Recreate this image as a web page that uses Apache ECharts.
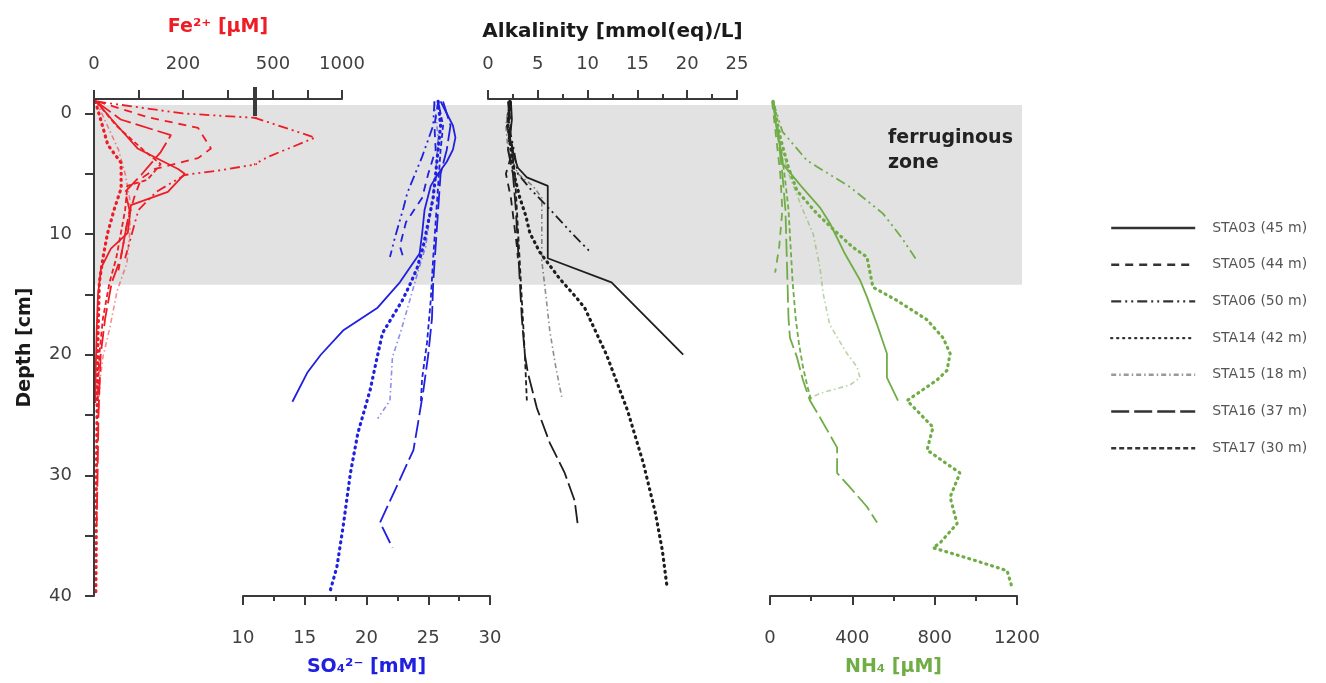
<!DOCTYPE html>
<html>
<head>
<meta charset="utf-8">
<script src="https://cdn.jsdelivr.net/npm/echarts@6/dist/echarts.min.js"></script>
<style>
html, body { margin: 0; padding: 0; background: #fff; }
#chart { width: 1326px; height: 683px; }
</style>
</head>
<body>
<div id="chart"></div>
<script>
// stations (legend order)
var stations = ['STA03 (45 m)', 'STA05 (44 m)', 'STA06 (50 m)', 'STA14 (42 m)', 'STA15 (18 m)', 'STA16 (37 m)', 'STA17 (30 m)'];

// depth range [cm] and ferruginous zone
var depthMin = -1.2, depthMax = 40;
var zoneTop = -0.7, zoneBottom = 14.2;

// tick values
var depthTicks = [0, 5, 10, 15, 20, 25, 30, 35, 40];
var depthLabels = [0, 10, 20, 30, 40];
var feTicksLow = [0, 100, 200, 300], feLabelsLow = [0, 200];
var feTicksHigh = [500, 750, 1000], feLabelsHigh = [500, 1000];
var feBreakLow = 362, feBreakHigh = 370;

// Fe2+ [uM] : [value, depth]
var fe03 = [[5,-1],[40,0.5],[98,2.9],[189,4.6],[204,5],[166,6.5],[83,7.6],[76,9.9],[38,11.2],[16,12.8],[9,15],[6,18],[4,21],[3,24]];
var fe05 = [[8,-1],[120,0.3],[234,1.2],[263,2.9],[234,3.7],[137,4.6],[106,5.4],[90,7],[75,9],[65,11],[55,13]];
var fe06 = [[5,-1],[200,0],[380,0.4],[805,2.0],[464,3.6],[285,4.7],[204,5.1],[140,6.5],[100,8],[85,10],[70,12]];
var fe14 = [[3,-1],[15,0.5],[31,2.6],[61,4.1],[61,6.2],[45,8],[30,10],[20,12],[12,14],[10,17],[8,20],[7,24],[6,28],[5,32],[5,36],[4,40]];
var fe15 = [[5,-1],[30,1],[55,3],[70,5],[80,7],[81,9.7],[74,12.4],[52,14.7],[36,17.7],[20,20.2],[13,22.4],[10,25]];
var fe16 = [[5,-1],[60,0.5],[173,1.8],[150,3.2],[106,5.1],[70,6.5],[80,8],[70,10],[60,12],[40,14],[25,17],[15,20],[10,25],[8,30],[6,34]];
var fe17 = [[5,-1],[50,1],[110,3],[150,4.2],[120,5.5],[75,6],[70,8],[60,10],[50,12],[35,14],[20,17],[12,20],[8,24]];

// SO4 2- [mM]
var so03 = [[26.0,-1],[26.5,0],[27.0,1],[27.2,2],[27.0,3],[26.5,4],[25.8,5],[25.2,6],[24.7,8],[24.5,10],[24.3,11.6],[22.7,14],[20.9,16.1],[18.1,18],[16.3,20],[15.2,21.5],[14.0,23.9]];
var so05 = [[25.8,-1],[25.5,1],[25.6,3],[25.0,5],[24.5,7],[23.2,9],[22.7,11],[23.0,12]];
var so06 = [[25.5,-1],[25.4,1],[24.5,3.6],[23.3,6.6],[23.0,7.8],[22.3,10.3],[21.9,11.9]];
var so14 = [[25.8,-1],[26.0,1],[25.8,3],[25.6,5],[25.4,7],[25.0,9],[24.6,11],[24.1,12.8],[23.6,14],[22.9,15.5],[21.3,18.2],[20.8,20.5],[20.3,22.9],[19.3,26.5],[18.7,29.8],[18.1,34.3],[17.6,37.6],[17.0,39.8]];
var so15 = [[25.5,-1],[25.8,2],[25.6,5],[25.2,8],[24.8,11],[24.2,13],[23.5,15.5],[22.8,18],[22.1,20.2],[21.9,23.8],[20.9,25.3]];
var so16 = [[26.2,-1],[26.8,1],[26.5,3],[26.0,5],[25.8,8],[25.6,11],[25.4,14],[25.3,17],[25.0,20],[24.6,23],[24.2,25.5],[23.8,27.9],[22.5,30.8],[21.1,33.9],[22.1,36.0]];
var so17 = [[25.8,-1],[26.2,1],[26.0,3],[25.8,6],[25.6,9],[25.4,12],[25.2,15.5],[24.9,19],[24.5,22],[24.4,24]];

// Alkalinity [mmol(eq)/L]
var alk03 = [[2.3,-1],[2.4,0.5],[2.2,2],[2.6,3.5],[3.0,4.5],[3.9,5.3],[6.0,6.0],[6.0,12.0],[12.4,14.0],[19.6,20.0]];
var alk05 = [[2.2,-1],[2.0,1],[2.5,3],[1.8,5],[2.3,7],[2.6,9],[2.9,11],[3.0,12]];
var alk06 = [[2.3,-1],[2.1,1],[2.6,3],[3.0,5],[4.2,6.2],[6.5,8.2],[8.5,10],[10.4,11.6]];
var alk14 = [[2.2,-1],[2.0,1],[2.3,3],[2.6,5],[3.2,7],[3.8,8.5],[4.2,9.9],[5.2,11.5],[7.2,13.7],[8.7,15.1],[9.7,16.1],[11.9,20.0],[14.0,24.6],[15.6,29.0],[16.8,33.1],[17.5,36.2],[18.0,39.4]];
var alk15 = [[2.1,-1],[1.8,1],[2.0,3],[3.0,5],[4.5,6],[5.4,7],[5.4,10],[5.4,12.2],[5.8,15],[6.2,18],[6.8,21],[7.4,23.5]];
var alk16 = [[2.0,-1],[2.3,1],[2.0,3],[2.5,5],[2.8,8],[3.0,11],[3.2,14],[3.4,17],[3.7,20],[4.0,21.5],[4.9,24.4],[6.2,27.3],[7.7,29.8],[8.7,32.1],[9.0,34.0]];
var alk17 = [[2.2,-1],[1.9,1],[2.4,3],[2.7,5],[2.9,8],[3.1,11],[3.3,14],[3.5,17],[3.7,20],[3.9,23.8]];

// NH4 [uM]
var nh03 = [[15,-1],[30,1],[63,4.2],[150,6],[243,7.8],[291,9.1],[360,11.5],[437,13.8],[471,15.2],[520,17.5],[568,19.9],[568,21.9],[622,23.8]];
var nh05 = [[10,-1],[30,2],[50,5],[60,8],[45,11],[25,13.2]];
var nh06 = [[15,-1],[60,1.5],[180,3.9],[389,6.1],[549,8.3],[640,10.3],[714,12.2]];
var nh14 = [[15,-1],[50,2],[90,4.5],[131,6.4],[228,8.3],[326,9.9],[403,11.1],[471,11.9],[500,14.4],[617,15.5],[763,17.1],[841,18.6],[875,19.9],[860,21.3],[811,22.1],[666,23.8],[792,26.0],[763,27.9],[923,29.8],[875,31.8],[909,34.0],[826,35.6],[792,36.0],[889,36.5],[986,37.0],[1152,37.9],[1176,39.3]];
var nh15 = [[15,-1],[40,2],[90,5],[160,8],[210,10],[243,12.8],[258,14.9],[290,17.5],[374,19.9],[423,21.0],[437,21.9],[389,22.5],[306,22.9],[243,23.2],[194,23.6]];
var nh16 = [[15,-1],[40,2],[60,5],[75,8],[80,11],[85,14],[90,17],[97,18.6],[131,20.2],[160,22.1],[194,23.8],[243,25.2],[326,27.7],[326,29.8],[389,31.0],[471,32.6],[520,33.9]];
var nh17 = [[15,-1],[45,2],[70,5],[90,8],[100,11],[110,14],[125,17],[140,19],[160,21],[180,22.5],[200,23.8]];

var feData = [fe03, fe05, fe06, fe14, fe15, fe16, fe17];
var soData = [so03, so05, so06, so14, so15, so16, so17];
var alkData = [alk03, alk05, alk06, alk14, alk15, alk16, alk17];
var nhData = [nh03, nh05, nh06, nh14, nh15, nh16, nh17];

var FONT = "'DejaVu Sans', sans-serif";
var AX = '#3a3a3a';
var RED = '#ee1c25', BLUE = '#2020e0', BLACK = '#1e1e1e', GREEN = '#70ad47';

// line look per station
var dashes = [
    { type: 'solid', width: 1.8 },
    { type: [8, 6], width: 1.8 },
    { type: [10, 4, 2, 4, 2, 4], width: 1.8 },
    { type: [1, 5], width: 3.2, cap: 'round' },
    { type: [5, 3, 1.5, 3], width: 1.6, opacity: 0.5 },
    { type: [18, 5], width: 1.8 },
    { type: [5, 3], width: 1.8 }
];

function mk(i, data, axis, color) {
    var d = dashes[i];
    return {
        type: 'line', name: stations[i], data: data,
        xAxisIndex: axis, yAxisIndex: axis,
        symbol: 'none', clip: true, z: 3, silent: true, animation: false,
        lineStyle: { color: color, width: d.width, type: d.type, cap: d.cap || 'butt', opacity: d.opacity == null ? 1 : d.opacity }
    };
}

function lineAx() { return { show: true, onZero: false, lineStyle: { color: AX, width: 2 } }; }
function tickAx(vals) {
    var o = { show: true, length: 9, lineStyle: { color: AX, width: 2 } };
    if (vals) o.customValues = vals;
    return o;
}
function minorAx() { return { show: true, splitNumber: 2, length: 5, lineStyle: { color: AX, width: 2 } }; }
function labelAx(margin, vals) {
    var o = { show: true, fontFamily: FONT, fontSize: 18, color: '#404040', margin: margin,
        formatter: function (v) { return String(v); } };
    if (vals) o.customValues = vals;
    return o;
}
function nameStyle(color, size) {
    return { fontFamily: FONT, fontSize: size || 19, fontWeight: 'bold', color: color };
}

// grids: 0 Fe low, 1 Fe high, 2 Fe name, 3 SO4, 4 Alk, 5 NH4, 6 zone
var gTop = 99, gH = 497;
var grids = [
    { left: 94, width: 161 }, { left: 255, width: 87 }, { left: 94, width: 248 },
    { left: 243, width: 247 }, { left: 488, width: 249 }, { left: 770, width: 247 },
    { left: 94, width: 928 }
].map(function (g) { g.top = gTop; g.height = gH; g.outerBoundsMode = 'none'; g.containLabel = false; return g; });

var xAxes = [
    { gridIndex: 0, type: 'value', position: 'top', min: 0, max: feBreakLow, z: 10,
      axisLine: lineAx(), axisTick: tickAx(feTicksLow),
      axisLabel: labelAx(26, feLabelsLow), splitLine: { show: false } },
    { gridIndex: 1, type: 'value', position: 'top', min: feBreakHigh, max: 1000, z: 10,
      axisLine: lineAx(), axisTick: tickAx(feTicksHigh),
      axisLabel: labelAx(26, feLabelsHigh), splitLine: { show: false } },
    { gridIndex: 2, type: 'value', position: 'top', min: 0, max: 1, z: 10,
      axisLine: { show: false }, axisTick: { show: false }, axisLabel: { show: false }, splitLine: { show: false },
      name: 'Fe²⁺ [µM]', nameLocation: 'middle', nameGap: 62, nameTextStyle: nameStyle(RED) },
    { gridIndex: 3, type: 'value', position: 'bottom', min: 10, max: 30, interval: 5, z: 10,
      axisLine: lineAx(), axisTick: tickAx(), minorTick: minorAx(), axisLabel: labelAx(33),
      splitLine: { show: false }, minorSplitLine: { show: false },
      name: 'SO₄²⁻ [mM]', nameLocation: 'middle', nameGap: 62, nameTextStyle: nameStyle(BLUE) },
    { gridIndex: 4, type: 'value', position: 'top', min: 0, max: 25, interval: 5, z: 10,
      axisLine: lineAx(), axisTick: tickAx(), minorTick: minorAx(), axisLabel: labelAx(26),
      splitLine: { show: false }, minorSplitLine: { show: false },
      name: 'Alkalinity [mmol(eq)/L]', nameLocation: 'middle', nameGap: 57, nameTextStyle: nameStyle('#1a1a1a', 20) },
    { gridIndex: 5, type: 'value', position: 'bottom', min: 0, max: 1200, interval: 400, z: 10,
      axisLine: lineAx(), axisTick: tickAx(), minorTick: minorAx(), axisLabel: labelAx(33),
      splitLine: { show: false }, minorSplitLine: { show: false },
      name: 'NH₄ [µM]', nameLocation: 'middle', nameGap: 62, nameTextStyle: nameStyle(GREEN) },
    { gridIndex: 6, type: 'value', min: 0, max: 1, show: false }
];

var yAxes = grids.map(function (g, i) {
    return { gridIndex: i, type: 'value', inverse: true, min: depthMin, max: depthMax, show: false, splitLine: { show: false } };
});
yAxes[0] = {
    gridIndex: 0, type: 'value', inverse: true, min: depthMin, max: depthMax, position: 'left', z: 10,
    axisLine: lineAx(), axisTick: tickAx(depthTicks),
    axisLabel: labelAx(22, depthLabels), splitLine: { show: false },
    name: 'Depth [cm]', nameLocation: 'middle', nameGap: 59, nameTextStyle: nameStyle('#1a1a1a')
};

var series = [{
    type: 'line', xAxisIndex: 6, yAxisIndex: 6, data: [], z: 0, silent: true,
    markArea: {
        silent: true,
        itemStyle: { color: '#e2e2e2' },
        label: {
            show: true, position: [794, 21], align: 'left', verticalAlign: 'top',
            fontFamily: FONT, fontSize: 19, fontWeight: 'bold', color: '#222', lineHeight: 25
        },
        data: [[{ name: 'ferruginous\nzone', xAxis: 0, yAxis: zoneTop }, { xAxis: 1, yAxis: zoneBottom }]]
    }
}];
for (var i = 0; i < stations.length; i++) {
    series.push(mk(i, feData[i], 0, RED));
    series.push(mk(i, feData[i], 1, RED));
    series.push(mk(i, soData[i], 3, BLUE));
    series.push(mk(i, alkData[i], 4, BLACK));
    series.push(mk(i, nhData[i], 5, GREEN));
}

var chart = echarts.init(document.getElementById('chart'));
chart.setOption({
    animation: false,
    backgroundColor: '#fff',
    grid: grids,
    xAxis: xAxes,
    yAxis: yAxes,
    legend: {
        orient: 'vertical', left: 1105, top: 216,
        itemWidth: 84, itemHeight: 14, itemGap: 22.7,
        selectedMode: false,
        lineStyle: { color: '#333', width: 2.4 },
        itemStyle: { opacity: 0 },
        textStyle: { fontFamily: FONT, fontSize: 14, color: '#555', padding: [0, 0, 0, 12] },
        data: stations
    },
    series: series
});

// axis break mark on the Fe axis
var bx = chart.convertToPixel({ xAxisIndex: 1 }, feBreakHigh);
var by = chart.convertToPixel({ yAxisIndex: 1 }, depthMin);
chart.setOption({
    graphic: [{ type: 'line', z: 20, shape: { x1: bx, y1: by - 12, x2: bx, y2: by + 17 }, style: { stroke: AX, lineWidth: 4 } }]
});

window.onresize = function () { chart.resize(); };
</script>
</body>
</html>
